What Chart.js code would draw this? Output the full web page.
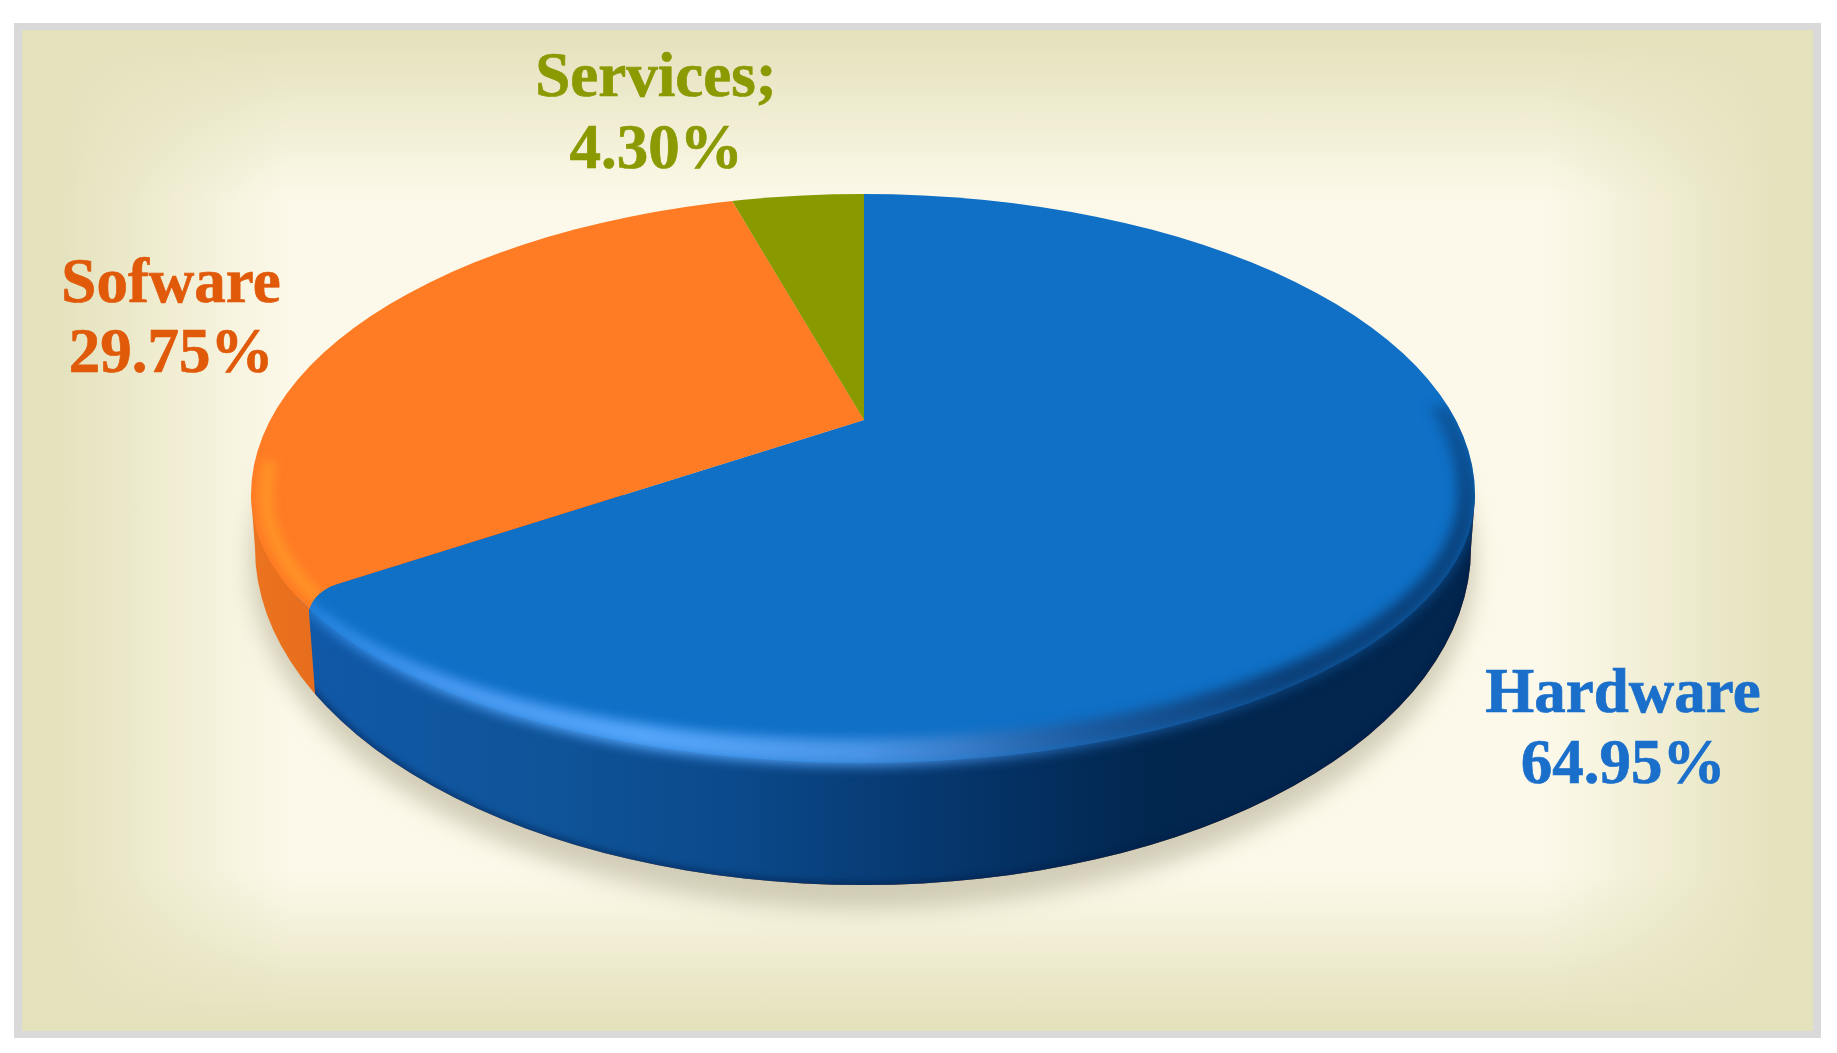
<!DOCTYPE html>
<html>
<head>
<meta charset="utf-8">
<title>Market share</title>
<style>
  html, body { margin: 0; background: #fff; }
  #panel {
    position: absolute; left: 14px; top: 23px; width: 1791px; height: 1001px;
    border: 8px solid #d9d9d9; border-top-width: 7px; border-bottom-width: 7px;
    background:
      linear-gradient(to right, #e4e2bd 2%, rgba(228,226,189,0) 15%, rgba(228,226,189,0) 85%, #e4e2bd 98%),
      linear-gradient(to bottom, #e4e2bd 1%, rgba(228,226,189,0) 17%, rgba(228,226,189,0) 84%, #e4e2bd 99%),
      #fdf9ea;
  }
  canvas { position: absolute; left: 0; top: 0; }
</style>
</head>
<body>
<div id="panel"></div>
<canvas id="chart" width="1837" height="1053"></canvas>
<script src="https://cdn.jsdelivr.net/npm/chart.js@4"></script>
<script>
const categories = ['Hardware', 'Sofware', 'Services;'];
const shareValues = [64.95, 29.75, 4.30];
const sliceColors = ['#0f70c6', '#ff7b24', '#889a00'];
const textColors = ['#1a6fcb', '#e05a0a', '#8a9a00'];

// the picture is a tilted pie: apex sits above the middle of the top ellipse
const apex = { x: 864, y: 420 };
const tilt = 0.465;
const top3d = { x: 863, y: 495, rx: 612, ryUp: 301, ryDown: 268 };
const base3d = { x: 863, y: 548, rx: 608, ry: 337 };
const seam = { x: 309, y: 612, bottomX: 317 };

// label anchors, one per category: x centre, first and second baseline
const labelBoxes = [
  { x: 1623, y1: 712, y2: 783 },
  { x: 171, y1: 302, y2: 372 },
  { x: 656, y1: 96, y2: 168 },
];

function topPath(ctx) {
  const t = top3d;
  ctx.beginPath();
  ctx.ellipse(t.x, t.y, t.rx, t.ryUp, 0, Math.PI, 2 * Math.PI);
  ctx.ellipse(t.x, t.y, t.rx, t.ryDown, 0, 0, Math.PI);
  ctx.closePath();
}

function sidePath(ctx) {
  const t = top3d, b = base3d;
  ctx.beginPath();
  ctx.moveTo(t.x - t.rx, t.y);
  ctx.lineTo(b.x - b.rx, b.y);
  ctx.ellipse(b.x, b.y, b.rx, b.ry, 0, Math.PI, 0, true);
  ctx.lineTo(t.x + t.rx, t.y);
  ctx.closePath();
}

function bodyClip(ctx) {
  const t = top3d, b = base3d;
  ctx.beginPath();
  ctx.ellipse(t.x, t.y, t.rx, t.ryUp, 0, Math.PI, 2 * Math.PI);
  ctx.lineTo(b.x + b.rx, b.y);
  ctx.ellipse(b.x, b.y, b.rx, b.ry, 0, 0, Math.PI);
  ctx.closePath();
  ctx.clip();
}

function blueSideRegion(ctx) {
  ctx.beginPath();
  ctx.moveTo(seam.x, 480);
  ctx.lineTo(seam.x, seam.y);
  ctx.lineTo(seam.bottomX, 720);
  ctx.lineTo(seam.bottomX, 1000);
  ctx.lineTo(1600, 1000);
  ctx.lineTo(1600, 480);
  ctx.closePath();
}

// the rounded corner where the blue slice meets the outline
function seamCorner(ctx) {
  ctx.lineTo(345, 581);
  ctx.quadraticCurveTo(312, 591, seam.x, seam.y);
}

const pie3d = {
  id: 'pie3d',
  beforeDatasetsDraw(chart) {
    const ctx = chart.ctx;
    const b = base3d;

    // soft shadow on the background
    ctx.save();
    ctx.filter = 'blur(11px)';
    ctx.fillStyle = 'rgba(150,145,115,0.42)';
    ctx.beginPath();
    ctx.ellipse(b.x, b.y + 14, b.rx + 4, b.ry + 10, 0, 0, 2 * Math.PI);
    ctx.fill();
    ctx.restore();

    // side wall
    ctx.save();
    sidePath(ctx);
    const orange = ctx.createLinearGradient(251, 0, 317, 0);
    orange.addColorStop(0, '#ec7420');
    orange.addColorStop(1, '#e66d1c');
    ctx.fillStyle = orange;
    ctx.fill();
    ctx.restore();

    ctx.save();
    blueSideRegion(ctx);
    ctx.clip();
    sidePath(ctx);
    const blue = ctx.createLinearGradient(309, 0, 1475, 0);
    blue.addColorStop(0, '#1159a8');
    blue.addColorStop(0.2, '#0f5499');
    blue.addColorStop(0.36, '#0b4a8c');
    blue.addColorStop(0.5, '#073b74');
    blue.addColorStop(0.62, '#042f60');
    blue.addColorStop(0.72, '#02274f');
    blue.addColorStop(1, '#02264e');
    ctx.fillStyle = blue;
    ctx.fill();
    ctx.restore();

    // dark lip along the bottom of the wall
    ctx.save();
    bodyClip(ctx);
    blueSideRegion(ctx);
    ctx.clip();
    ctx.filter = 'blur(3px)';
    ctx.strokeStyle = 'rgba(0,25,70,0.55)';
    ctx.lineWidth = 6;
    ctx.beginPath();
    ctx.ellipse(b.x, b.y, b.rx, b.ry, 0, 0, Math.PI);
    ctx.stroke();
    ctx.restore();

    // the top face, squashed about the apex and cut to the outline
    const arc = chart.getDatasetMeta(0).data[0];
    ctx.save();
    topPath(ctx);
    ctx.clip();
    ctx.translate(apex.x, apex.y);
    ctx.scale(1, tilt);
    ctx.translate(-arc.x, -arc.y);
  },
  afterDatasetsDraw(chart) {
    const ctx = chart.ctx;
    ctx.restore();
    const t = top3d;

    // round off the tip of the blue slice
    ctx.save();
    topPath(ctx);
    ctx.clip();
    ctx.beginPath();
    ctx.moveTo(285, 585);
    seamCorner(ctx);
    ctx.lineTo(285, 625);
    ctx.closePath();
    ctx.fillStyle = sliceColors[1];
    ctx.fill();
    ctx.restore();

    // bevel on the blue slice, colour follows the angle round the rim
    ctx.save();
    bodyClip(ctx);
    ctx.beginPath();
    ctx.moveTo(apex.x, apex.y);
    seamCorner(ctx);
    ctx.lineTo(seam.x, 1000);
    ctx.lineTo(1600, 1000);
    ctx.lineTo(1600, 100);
    ctx.lineTo(apex.x, 100);
    ctx.closePath();
    ctx.clip();
    const rim = ctx.createConicGradient(-0.45, t.x, t.y);
    rim.addColorStop(0, '#0f70c6');
    rim.addColorStop(0.03, '#0e62b0');
    rim.addColorStop(0.08, '#0a4480');
    rim.addColorStop(0.135, '#0b4079');
    rim.addColorStop(0.2, '#1b5a9f');
    rim.addColorStop(0.266, '#3a7fcc');
    rim.addColorStop(0.322, '#4a94e6');
    rim.addColorStop(0.44, '#55a6fb');
    rim.addColorStop(0.505, '#4a9af2');
    rim.addColorStop(0.54, '#2c8ae6');
    rim.addColorStop(1, '#2c8ae6');
    ctx.fillStyle = rim;
    ctx.filter = 'blur(6px)';
    ctx.beginPath();
    ctx.ellipse(t.x, t.y, t.rx + 2, t.ryUp, 0, -0.3, 0);
    ctx.ellipse(t.x, t.y, t.rx + 2, t.ryDown + 3, 0, 0, 2.75);
    ctx.ellipse(t.x - 10, t.y, t.rx - 8, t.ryDown - 24, 0, 2.75, 0, true);
    ctx.ellipse(t.x - 10, t.y, t.rx - 8, t.ryUp - 4, 0, 0, -0.3, true);
    ctx.closePath();
    ctx.fill();
    ctx.restore();

    // bevel on the orange slice
    ctx.save();
    topPath(ctx);
    ctx.clip();
    ctx.beginPath();
    ctx.moveTo(apex.x, apex.y);
    seamCorner(ctx);
    ctx.lineTo(seam.x, 700);
    ctx.lineTo(200, 700);
    ctx.lineTo(200, 100);
    ctx.closePath();
    ctx.clip();
    ctx.strokeStyle = 'rgba(255,148,40,0.9)';
    ctx.lineWidth = 15;
    ctx.filter = 'blur(5px)';
    ctx.beginPath();
    ctx.ellipse(t.x, t.y, t.rx - 15, t.ryUp - 15, 0, Math.PI + 0.12, Math.PI, true);
    ctx.ellipse(t.x, t.y, t.rx - 15, t.ryDown - 15, 0, Math.PI, 2.72, true);
    ctx.stroke();
    ctx.restore();

    // labels
    ctx.save();
    ctx.font = 'bold 63px "Liberation Serif"';
    ctx.textAlign = 'center';
    ctx.textBaseline = 'alphabetic';
    ctx.lineWidth = 0.7;
    categories.forEach((name, i) => {
      const box = labelBoxes[i];
      ctx.fillStyle = textColors[i];
      ctx.strokeStyle = textColors[i];
      const pct = shareValues[i].toFixed(2) + '%';
      ctx.fillText(name, box.x, box.y1);
      ctx.strokeText(name, box.x, box.y1);
      ctx.fillText(pct, box.x, box.y2);
      ctx.strokeText(pct, box.x, box.y2);
    });
    ctx.restore();
  },
};

new Chart(document.getElementById('chart'), {
  type: 'pie',
  data: {
    labels: categories,
    datasets: [{
      data: shareValues,
      backgroundColor: sliceColors,
      borderWidth: 0,
      clip: false,
    }],
  },
  options: {
    responsive: false,
    devicePixelRatio: 1,
    animation: false,
    radius: 1100,
    plugins: {
      legend: { display: false },
      tooltip: { enabled: false },
    },
  },
  plugins: [pie3d],
});
</script>
</body>
</html>
